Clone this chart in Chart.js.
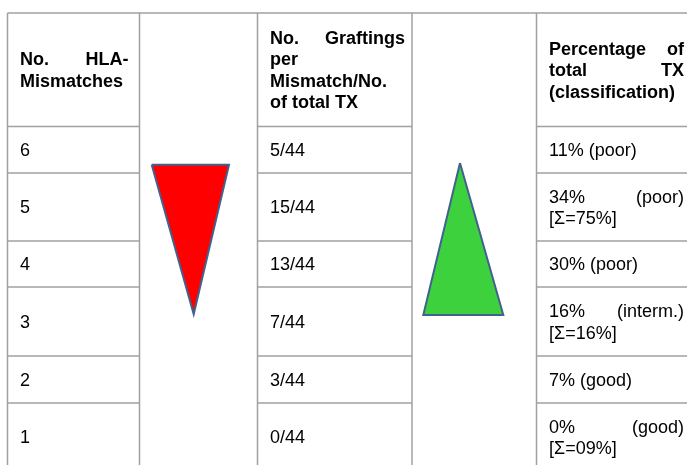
<!DOCTYPE html>
<html>
<head>
<meta charset="utf-8">
<script src="https://cdn.jsdelivr.net/npm/chart.js@4/dist/chart.umd.min.js"></script>
<style>
html, body { margin: 0; padding: 0; background: #fff; }
canvas { display: block; }
</style>
</head>
<body>
<canvas id="myChart" width="687" height="465"></canvas>
<script>
// Datos de la tabla
var mismatches = ['6', '5', '4', '3', '2', '1'];
var graftings = [5, 15, 13, 7, 3, 0];
var totalTx = 44;
var percentages = [11, 34, 30, 16, 7, 0];
var classes = ['poor', 'poor', 'poor', 'interm.', 'good', 'good'];
var groupSums = ['', '75%', '', '16%', '', '09%'];
var headers = [
	['No. HLA-', 'Mismatches'],
	['No. Graftings', 'per', 'Mismatch/No.', 'of total TX'],
	['Percentage of', 'total TX', '(classification)']
];

// Disposición (coordenadas de la tabla)
var colLines = [7.5, 139.5, 257.5, 412, 536.5];
var rowLines = [13, 126.5, 173, 241, 287, 356, 403, 471];
var textBox = [[20, 128.5], [270, 405], [549, 684]];
var lineHeight = 21.5;
var fontFamily = '"Liberation Sans", Arial, sans-serif';

// Triángulos (flechas de tendencia)
var redTriangle = [{x: 151.7, y: 164.7}, {x: 229, y: 164.7}, {x: 193.7, y: 314.3}, {x: 151.7, y: 164.7}];
var greenTriangle = [{x: 460, y: 163}, {x: 503.3, y: 315}, {x: 423.3, y: 315}, {x: 460, y: 163}];

function bodyLines(i) {
	var first = percentages[i] + '% (' + classes[i] + ')';
	if (groupSums[i]) {
		return [first, '[\u03A3=' + groupSums[i] + ']'];
	}
	return [first];
}

// Escribe una línea justificada entre x0 y x1
function drawLine(ctx, text, x0, x1, y, justify) {
	var words = text.split(' ');
	if (!justify || words.length < 2) {
		ctx.fillText(text, x0, y);
		return;
	}
	var sum = 0;
	for (var i = 0; i < words.length; i++) {
		sum += ctx.measureText(words[i]).width;
	}
	var gap = (x1 - x0 - sum) / (words.length - 1);
	var x = x0;
	for (var j = 0; j < words.length; j++) {
		ctx.fillText(words[j], x, y);
		x += ctx.measureText(words[j]).width + gap;
	}
}

function drawCell(ctx, xs, ys, lines, col, top, bottom, bold) {
	ctx.font = (bold ? 'bold ' : '') + '18px ' + fontFamily;
	var capH = 12.9;
	var center = (ys(top) + ys(bottom)) / 2;
	var firstBase = center + capH / 2 - (lines.length - 1) * lineHeight / 2;
	for (var k = 0; k < lines.length; k++) {
		var justify = k < lines.length - 1;
		drawLine(ctx, lines[k], xs(textBox[col][0]), xs(textBox[col][1]), firstBase + k * lineHeight, justify);
	}
}

var tablaPlugin = {
	id: 'tabla',
	beforeDatasetsDraw: function (chart) {
		var ctx = chart.ctx;
		var xs = function (v) { return chart.scales.x.getPixelForValue(v); };
		var ys = function (v) { return chart.scales.y.getPixelForValue(v); };
		ctx.save();
		ctx.strokeStyle = '#a0a0a0';
		ctx.lineWidth = 1.5;
		// líneas verticales
		for (var i = 0; i < colLines.length; i++) {
			ctx.beginPath();
			ctx.moveTo(xs(colLines[i]), ys(rowLines[0]));
			ctx.lineTo(xs(colLines[i]), ys(rowLines[rowLines.length - 1]));
			ctx.stroke();
		}
		// borde superior
		ctx.beginPath();
		ctx.moveTo(xs(colLines[0]), ys(rowLines[0]));
		ctx.lineTo(xs(700), ys(rowLines[0]));
		ctx.stroke();
		// líneas horizontales solo en las columnas de texto
		var segs = [[colLines[0], colLines[1]], [colLines[2], colLines[3]], [colLines[4], 700]];
		for (var r = 1; r < rowLines.length; r++) {
			for (var s = 0; s < segs.length; s++) {
				ctx.beginPath();
				ctx.moveTo(xs(segs[s][0]), ys(rowLines[r]));
				ctx.lineTo(xs(segs[s][1]), ys(rowLines[r]));
				ctx.stroke();
			}
		}
		ctx.fillStyle = '#000';
		ctx.textBaseline = 'alphabetic';
		ctx.textAlign = 'left';
		// cabecera
		for (var h = 0; h < headers.length; h++) {
			drawCell(ctx, xs, ys, headers[h], h, rowLines[0], rowLines[1], true);
		}
		// filas
		for (var j = 0; j < mismatches.length; j++) {
			var top = rowLines[j + 1];
			var bottom = rowLines[j + 2];
			drawCell(ctx, xs, ys, [mismatches[j]], 0, top, bottom, false);
			drawCell(ctx, xs, ys, [graftings[j] + '/' + totalTx], 1, top, bottom, false);
			drawCell(ctx, xs, ys, bodyLines(j), 2, top, bottom, false);
		}
		ctx.restore();
	}
};

var ctx = document.getElementById('myChart').getContext('2d');
var myChart = new Chart(ctx, {
	type: 'scatter',
	data: {
		datasets: [{
			data: redTriangle,
			showLine: true,
			fill: 'shape',
			backgroundColor: '#ff0000',
			borderColor: '#41628f',
			borderWidth: 2,
			borderJoinStyle: 'miter',
			pointRadius: 0,
			tension: 0
		}, {
			data: greenTriangle,
			showLine: true,
			fill: 'shape',
			backgroundColor: '#3dd13d',
			borderColor: '#41628f',
			borderWidth: 2,
			borderJoinStyle: 'miter',
			pointRadius: 0,
			tension: 0
		}]
	},
	options: {
		responsive: false,
		animation: false,
		devicePixelRatio: 1,
		layout: { padding: 0 },
		plugins: {
			legend: { display: false },
			tooltip: { enabled: false }
		},
		scales: {
			x: { type: 'linear', min: 0, max: 687, display: false },
			y: { type: 'linear', min: 0, max: 465, reverse: true, display: false }
		}
	},
	plugins: [tablaPlugin]
});
</script>
</body>
</html>
